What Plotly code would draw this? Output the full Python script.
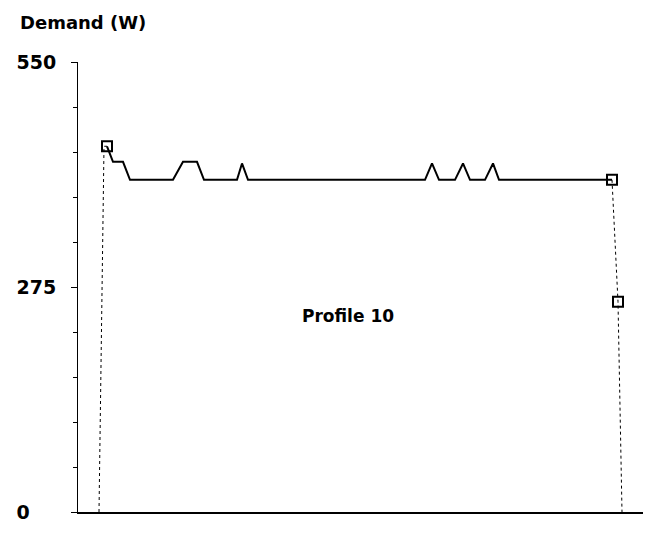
import plotly.graph_objects as go

# Demand profile (time units arbitrary, demand in W)
time_pts = [21, 26, 29, 35, 45, 52, 95, 105, 119, 126, 159, 164, 170,
            347, 354, 361, 377, 385, 392, 407, 415, 421, 534, 540, 544]
demand_w = [0, 447, 447, 428, 428, 406, 406, 428, 428, 406, 406, 426, 406,
            406, 426, 406, 406, 426, 406, 406, 426, 406, 406, 257, 0]

# marked points
mark_time = [29, 534, 540]
mark_demand = [447, 406, 257]

y_ticks = [0, 275, 550]
y_tick_text = ["0\u2007\u2007", "275", "550"]

FONT = "DejaVu Sans"

fig = go.Figure()
# rising edge (faint dotted in source)
fig.add_trace(go.Scatter(x=time_pts[0:3], y=demand_w[0:3], mode="lines",
                         line=dict(color="black", width=1, dash="dot"),
                         showlegend=False, hoverinfo="skip"))
# plateau
fig.add_trace(go.Scatter(x=time_pts[2:23], y=demand_w[2:23], mode="lines",
                         line=dict(color="black", width=2),
                         showlegend=False))
# falling edge
fig.add_trace(go.Scatter(x=time_pts[22:], y=demand_w[22:], mode="lines",
                         line=dict(color="black", width=1, dash="dot"),
                         showlegend=False, hoverinfo="skip"))
fig.add_trace(go.Scatter(x=mark_time, y=mark_demand, mode="markers",
                         marker=dict(symbol="square-open", size=10, color="black",
                                     line=dict(width=2, color="black")),
                         showlegend=False))

fig.add_annotation(text="Profile 10", x=270, y=240, xref="x", yref="y",
                   showarrow=False,
                   font=dict(family=FONT, size=17, color="black", weight="bold"),
                   xanchor="center", yanchor="middle")
fig.add_annotation(text="Demand (W)", xref="paper", yref="paper",
                   x=(18 - 78) / 565, y=1 + (62 - 22) / 450,
                   xanchor="left", yanchor="middle", showarrow=False,
                   font=dict(family=FONT, size=18, color="black", weight="bold"))

fig.update_layout(
    width=648, height=552,
    margin=dict(l=78, r=5, t=62, b=40),
    plot_bgcolor="white", paper_bgcolor="white",
    font=dict(family=FONT, size=18, color="black"),
    xaxis=dict(range=[0, 565], showgrid=False, zeroline=False, showline=True,
               linecolor="black", linewidth=1.5, showticklabels=False, ticks=""),
    yaxis=dict(range=[0, 550], showgrid=False, zeroline=False, showline=True,
               linecolor="black", linewidth=1, tickvals=y_ticks, ticktext=y_tick_text,
               ticks="outside", ticklen=6, tickcolor="black", ticklabelstandoff=11,
               tickfont=dict(family=FONT, size=19, color="black", weight="bold"),
               minor=dict(dtick=55, ticks="outside", ticklen=4, tickcolor="black")),
)

fig.write_html("out.html")
